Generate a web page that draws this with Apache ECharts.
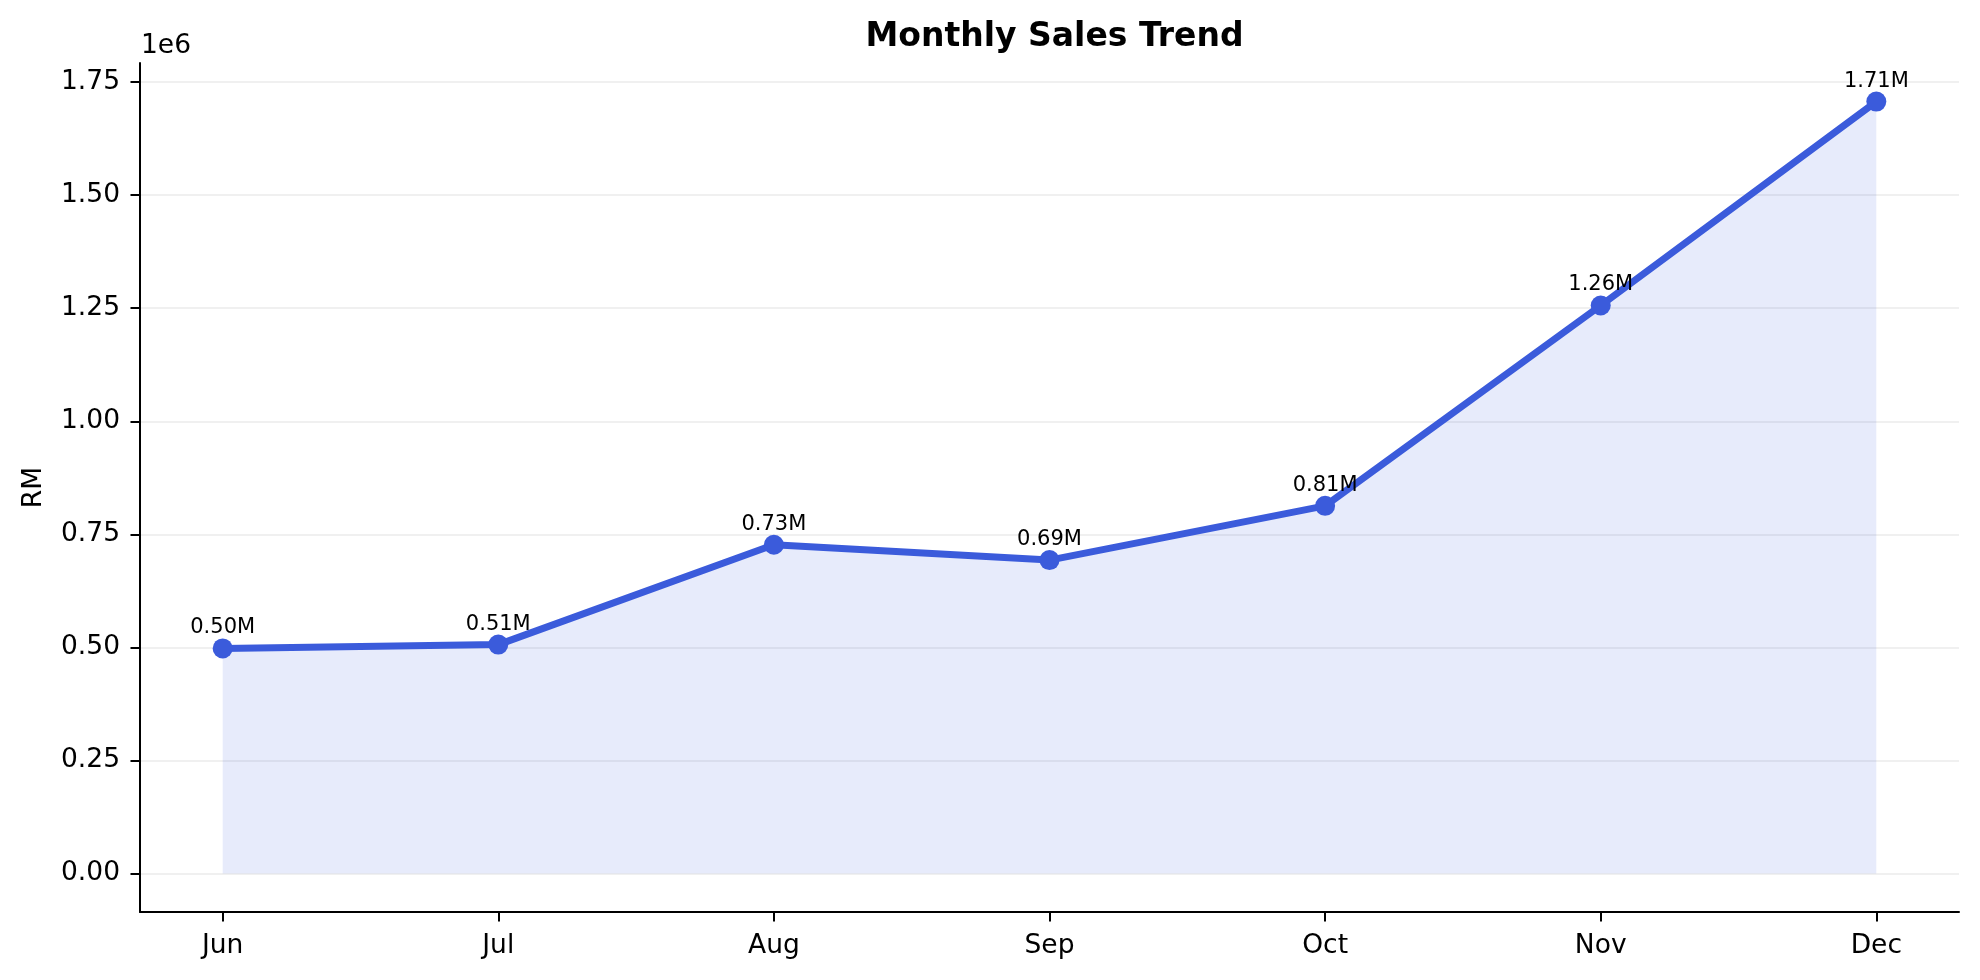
<!DOCTYPE html>
<html>
<head>
<meta charset="utf-8">
<script src="https://cdn.jsdelivr.net/npm/echarts@6/dist/echarts.min.js"></script>
<style>
html,body{margin:0;padding:0;background:#fff;}
#c{width:1980px;height:980px;}
</style>
</head>
<body>
<div id="c"></div>
<script>
const months = ['Jun', 'Jul', 'Aug', 'Sep', 'Oct', 'Nov', 'Dec'];
const sales = [497600, 506000, 727000, 693000, 813000, 1256000, 1707000];
const yTicks = [0, 250000, 500000, 750000, 1000000, 1250000, 1500000, 1750000];
const xTicks = [0, 1, 2, 3, 4, 5, 6];

const FONT = 'DejaVu Sans';
const lineColor = '#3b5bdb';
const yMax = Math.max(...sales);
const yMin = -0.05 * yMax;
const yTop = yMax * 1.05;

const chart = echarts.init(document.getElementById('c'), null, {renderer: 'canvas'});
chart.setOption({
  backgroundColor: '#ffffff',
  animation: false,
  title: {
    text: 'Monthly Sales Trend',
    left: 1049.5,
    textAlign: 'center',
    top: 16,
    textStyle: {fontFamily: FONT, fontWeight: 'bold', fontSize: 33, color: '#000'}
  },
  graphic: [{
    type: 'text',
    left: 141,
    top: 33,
    style: {text: '1e6', fontFamily: FONT, fontSize: 26.5, fill: '#000'}
  }],
  grid: {left: 140, right: 21, top: 63, bottom: 68, containLabel: false},
  xAxis: {
    type: 'value',
    min: -0.3,
    max: 6.3,
    axisLine: {show: true, onZero: false, lineStyle: {color: '#000', width: 2}},
    axisTick: {show: true, length: 9.5, customValues: xTicks, lineStyle: {color: '#000', width: 2}},
    axisLabel: {
      customValues: xTicks,
      margin: 21,
      fontFamily: FONT, fontSize: 26.5, color: '#000',
      formatter: v => months[Math.round(v)] || ''
    },
    splitLine: {show: false}
  },
  yAxis: {
    type: 'value',
    min: yMin,
    max: yTop,
    name: 'RM',
    nameLocation: 'middle',
    nameGap: 92,
    nameTextStyle: {fontFamily: FONT, fontSize: 26.5, color: '#000'},
    axisLine: {show: true, onZero: false, lineStyle: {color: '#000', width: 2}},
    axisTick: {show: true, length: 9.5, customValues: yTicks, lineStyle: {color: '#000', width: 2}},
    axisLabel: {
      customValues: yTicks,
      margin: 20,
      fontFamily: FONT, fontSize: 26.5, color: '#000',
      formatter: v => (v / 1e6).toFixed(2)
    },
    splitLine: {show: false}
  },
  series: [{
    type: 'line',
    data: sales.map((v, i) => [i, v]),
    symbol: 'circle',
    symbolSize: 20,
    itemStyle: {color: lineColor},
    lineStyle: {color: lineColor, width: 7},
    areaStyle: {color: 'rgba(59,91,219,0.12)', opacity: 1, origin: 0},
    label: {
      show: true,
      position: 'top',
      distance: 0,
      fontFamily: FONT,
      fontSize: 21,
      color: '#000',
      formatter: p => (p.value[1] / 1e6).toFixed(2) + 'M'
    },
    markLine: {
      silent: true,
      symbol: 'none',
      label: {show: false},
      z: 0,
      lineStyle: {color: '#ebebeb', width: 1.6, type: 'solid'},
      data: yTicks.map(t => ({yAxis: t}))
    },
    z: 3
  }]
});
</script>
</body>
</html>
